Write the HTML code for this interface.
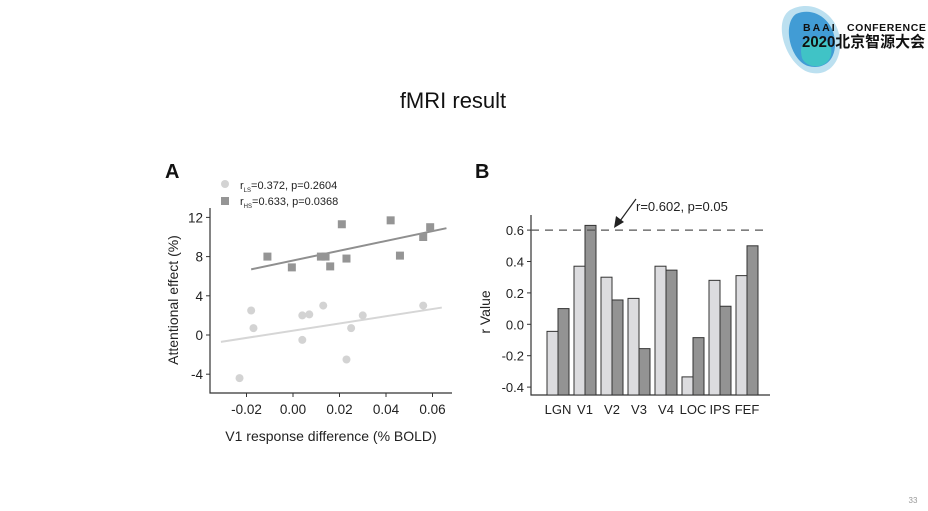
<!DOCTYPE html>
<html><head><meta charset="utf-8"><style>
body{margin:0;background:#fff;width:928px;height:506px;overflow:hidden;font-family:"Liberation Sans",Arial,sans-serif}
svg text{font-family:"Liberation Sans",Arial,sans-serif}
</style></head><body>
<svg id="s" width="928" height="506" viewBox="0 0 928 506">
<g>
<path d="M790 10 C812 -2 838 14 840 40 C842 64 826 78 808 72 C786 64 772 22 790 10Z" fill="#9fd3ea" opacity="0.7"/>
<path d="M796 14 C814 6 834 20 835 42 C836 62 822 70 808 66 C790 60 782 24 796 14Z" fill="#2b8fd0" opacity="0.85"/>
<path d="M806 40 C822 32 836 44 830 58 C824 70 806 68 802 58 C800 50 801 44 806 40Z" fill="#40d0c0" opacity="0.75"/>
<text x="803" y="31" font-size="10.5" font-weight="bold" fill="#111" letter-spacing="2">BAAI</text>
<text x="847" y="31" font-size="10.5" font-weight="bold" fill="#111" letter-spacing="0.6">CONFERENCE</text>
<text x="802" y="47" font-size="15.5" font-weight="bold" fill="#111" textLength="123" lengthAdjust="spacingAndGlyphs" style="font-family:'Liberation Sans','Noto Sans CJK SC',sans-serif">2020北京智源大会</text>
</g>
<text x="453" y="108" font-size="22" text-anchor="middle" fill="#111">fMRI result</text>
<text x="913" y="503" font-size="8" fill="#999" text-anchor="middle">33</text>
<g id="A"></g>
<g id="B"></g>
</svg>
<script>
const lsX=[-0.023,-0.018,-0.017,0.004,0.004,0.007,0.013,0.023,0.025,0.030,0.056];
const lsY=[-4.4,2.5,0.7,2.0,-0.5,2.1,3.0,-2.5,0.7,2.0,3.0];
const hsX=[-0.011,-0.0005,0.012,0.014,0.016,0.021,0.023,0.042,0.046,0.056,0.059];
const hsY=[8.0,6.9,8.0,8.0,7.0,11.3,7.8,11.7,8.1,10.0,11.0];
const lsLine=[[-0.031,-0.7],[0.064,2.8]];
const hsLine=[[-0.018,6.7],[0.066,10.9]];
const aXTicks=[-0.02,0,0.02,0.04,0.06];
const aXLabels=["-0.02","0.00","0.02","0.04","0.06"];
const aYTicks=[12,8,4,0,-4];
const regions=["LGN","V1","V2","V3","V4","LOC","IPS","FEF"];
const lsR=[-0.045,0.37,0.30,0.165,0.37,-0.335,0.28,0.31];
const hsR=[0.10,0.63,0.155,-0.155,0.345,-0.085,0.115,0.50];
const bYTicks=[0.6,0.4,0.2,0.0,-0.2,-0.4];
const bYLabels=["0.6","0.4","0.2","0.0","-0.2","-0.4"];
const threshold=0.6;
const NS="http://www.w3.org/2000/svg";
function mk(p,t,a,txt){const e=document.createElementNS(NS,t);for(const k in a)e.setAttribute(k,a[k]);if(txt!==undefined)e.textContent=txt;p.appendChild(e);return e;}
const A=document.getElementById('A');
const ax=v=>293+(v/0.02)*46.5, ay=v=>335-v*9.8;
let e;
e=mk(A,'path',{d:'M210 208 V393 H452',stroke:'#333',fill:'none','stroke-width':1.2});

aYTicks.forEach(v=>{mk(A,'line',{x1:206,x2:210,y1:ay(v),y2:ay(v),stroke:'#333'});
e=mk(A,'text',{x:203,y:ay(v)+5,'font-size':13.5,'text-anchor':'end',fill:'#222'},String(v));
});
aXTicks.forEach((v,i)=>{mk(A,'line',{x1:ax(v),x2:ax(v),y1:393,y2:397,stroke:'#333'});
e=mk(A,'text',{x:ax(v),y:414,'font-size':13.5,'text-anchor':'middle',fill:'#222'},aXLabels[i]);
});
e=mk(A,'text',{x:331,y:441,'font-size':14,'text-anchor':'middle',fill:'#222'},'V1 response difference (% BOLD)');

e=mk(A,'text',{x:178,y:300,'font-size':14,'text-anchor':'middle',fill:'#222',transform:'rotate(-90 178 300)'},'Attentional effect (%)');

e=mk(A,'text',{x:165,y:178,'font-size':20,'font-weight':'bold',fill:'#111'},'A');

e=mk(A,'line',{x1:ax(lsLine[0][0]),y1:ay(lsLine[0][1]),x2:ax(lsLine[1][0]),y2:ay(lsLine[1][1]),stroke:'#d6d6d6','stroke-width':2});

e=mk(A,'line',{x1:ax(hsLine[0][0]),y1:ay(hsLine[0][1]),x2:ax(hsLine[1][0]),y2:ay(hsLine[1][1]),stroke:'#8f8f8f','stroke-width':2});

lsX.forEach((x,i)=>{e=mk(A,'circle',{cx:ax(x),cy:ay(lsY[i]),r:4,fill:'#d3d3d3'});
});
hsX.forEach((x,i)=>{e=mk(A,'rect',{x:ax(x)-4,y:ay(hsY[i])-4,width:8,height:8,fill:'#959595'});
});
e=mk(A,'circle',{cx:225,cy:184,r:4,fill:'#d3d3d3'});
e=mk(A,'rect',{x:221,y:197,width:8,height:8,fill:'#959595'});
e=mk(A,'text',{x:240,y:189,'font-size':11,fill:'#222'});e.innerHTML='r<tspan font-size="6" dy="3">LS</tspan><tspan dy="-3">=0.372, p=0.2604</tspan>';

e=mk(A,'text',{x:240,y:205,'font-size':11,fill:'#222'});e.innerHTML='r<tspan font-size="6" dy="3">HS</tspan><tspan dy="-3">=0.633, p=0.0368</tspan>';

const B=document.getElementById('B');
const by=v=>324.3-v*157, gx=i=>547+i*27, base=395;
e=mk(B,'path',{d:'M531 215 V395 H770',stroke:'#333',fill:'none','stroke-width':1.2});

bYTicks.forEach((v,i)=>{mk(B,'line',{x1:527,x2:531,y1:by(v),y2:by(v),stroke:'#333'});
e=mk(B,'text',{x:524,y:by(v)+5,'font-size':13,'text-anchor':'end',fill:'#222'},bYLabels[i]);
});
e=mk(B,'text',{x:490,y:312,'font-size':14,'text-anchor':'middle',fill:'#222',transform:'rotate(-90 490 312)'},'r Value');

e=mk(B,'text',{x:475,y:178,'font-size':20,'font-weight':'bold',fill:'#111'},'B');

regions.forEach((r,i)=>{
 e=mk(B,'rect',{x:gx(i),y:by(lsR[i]),width:11,height:base-by(lsR[i]),fill:'#dcdcdf',stroke:'#333','stroke-width':1});
 
 e=mk(B,'rect',{x:gx(i)+11,y:by(hsR[i]),width:11,height:base-by(hsR[i]),fill:'#939393',stroke:'#333','stroke-width':1});
 
 e=mk(B,'text',{x:gx(i)+11,y:414,'font-size':13,'text-anchor':'middle',fill:'#222'},r);
 
});
e=mk(B,'line',{x1:531,x2:767,y1:by(threshold),y2:by(threshold),stroke:'#555','stroke-width':1.2,'stroke-dasharray':'8,6'});

e=mk(B,'line',{x1:636,y1:199,x2:620,y2:221,stroke:'#222','stroke-width':1.2});

mk(B,'polygon',{points:'614,228 616,216 624,222',fill:'#222'});
e=mk(B,'text',{x:636,y:211,'font-size':13,fill:'#222'},'r=0.602, p=0.05');

</script>
</body></html>
